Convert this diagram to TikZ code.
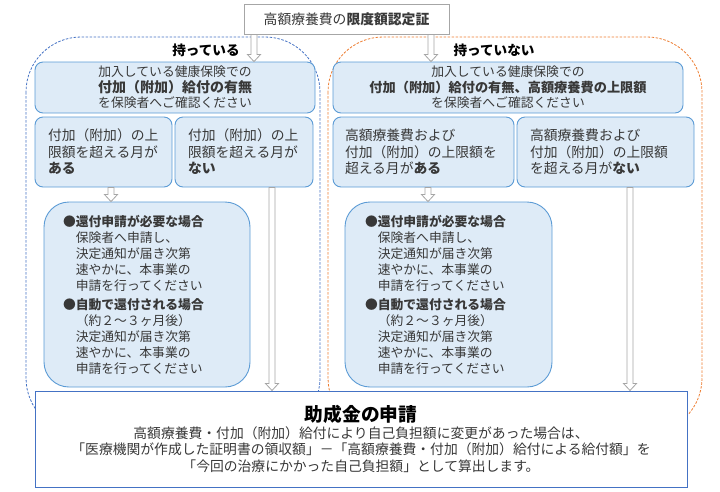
\documentclass[tikz,border=0pt]{standalone}
\usepackage{fontspec}
\setmainfont{Noto Sans CJK JP}
\usetikzlibrary{calc}
\definecolor{boxfill}{HTML}{DEEBF7}
\definecolor{boxline}{HTML}{5B9BD5}
\definecolor{ownline}{HTML}{4472C4}
\definecolor{noneline}{HTML}{ED7D31}
\definecolor{arrowgray}{HTML}{A6A6A6}
\definecolor{textgray}{HTML}{383838}
\newcommand{\blockarrow}[3]{%
\draw[arrowline] let \p1=(#2), \p2=(#3) in (#1pt-3pt,\y1) -- (#1pt-3pt,\y2+7pt) -- (#1pt-6.5pt,\y2+7pt) -- (#1pt,\y2) -- (#1pt+6.5pt,\y2+7pt) -- (#1pt+3pt,\y2+7pt) -- (#1pt+3pt,\y1) -- cycle;}
\begin{document}
\begin{tikzpicture}[x=1pt,y=-1pt,
  every node/.style={text=textgray},
  infobox/.style={draw=boxline,fill=boxfill,line width=0.9pt,rounded corners=8pt,inner ysep=0pt},
  askbox/.style={infobox,align=center,minimum height=51pt,font=\fontsize{12.8}{15.5}\selectfont},
  overbox/.style={infobox,align=left,minimum height=70pt,font=\fontsize{13.8}{16.5}\selectfont},
  stepsbox/.style={infobox,align=left,minimum height=185pt,rounded corners=25pt,font=\fontsize{12.8}{16}\selectfont},
  grouplabel/.style={font=\fontsize{13.6}{16}\selectfont\bfseries,text=black,inner sep=0pt},
  arrowline/.style={draw=arrowgray,fill=white,line width=0.8pt},
  ownregion/.style={draw=ownline,line width=0.8pt,dash pattern=on 2.5pt off 1.5pt,rounded corners=55pt},
  noneregion/.style={draw=noneline,line width=0.8pt,dash pattern=on 2.5pt off 1.5pt,rounded corners=55pt}]
\useasboundingbox (0,0) rectangle (720,491);
\draw[ownregion] (26,37) rectangle (320,433);
\draw[noneregion] (328,37) rectangle (702,433);
\node[draw=arrowgray,line width=1pt,fill=white,minimum width=205pt,minimum height=30pt,font=\fontsize{13.8}{16}\selectfont] (cert) at (346.5,19) {高額療養費の\textbf{限度額認定証}};
\node[grouplabel] (own) at (206,50) {持っている};
\node[grouplabel] (none) at (494,50) {持っていない};
\node[askbox,minimum width=280pt] (ownask) at (175,87.5) {加入している健康保険での\\{\fontsize{14}{15.5}\selectfont\bfseries 付加（附加）給付の有無}\\を保険者へご確認ください};
\node[overbox,text width=111pt,inner xsep=13pt] (ownover) at (103.5,152) {付加（附加）の上\\限額を超える月が\\\textbf{ある}};
\node[overbox,text width=112pt,inner xsep=13pt] (ownunder) at (244,152) {付加（附加）の上\\限額を超える月が\\\textbf{ない}};
\node[stepsbox,text width=168pt,inner xsep=19pt] (ownsteps) at (147,294.5) {●\textbf{還付申請が必要な場合}\\\hspace*{1em}保険者へ申請し、\\\hspace*{1em}決定通知が届き次第\\\hspace*{1em}速やかに、本事業の\\\hspace*{1em}申請を行ってください\\[3pt]●\textbf{自動で還付される場合}\\\hspace*{1em}（約２～３ヶ月後）\\\hspace*{1em}決定通知が届き次第\\\hspace*{1em}速やかに、本事業の\\\hspace*{1em}申請を行ってください};
\node[askbox,minimum width=350pt] (noneask) at (508,87.5) {加入している健康保険での\\{\fontsize{13.2}{15.5}\selectfont\bfseries 付加（附加）給付の有無、高額療養費の上限額}\\を保険者へご確認ください};
\node[overbox,text width=157pt,inner xsep=12pt] (noneover) at (423.5,152) {高額療養費および\\付加（附加）の上限額を\\超える月が\textbf{ある}};
\node[overbox,text width=151pt,inner xsep=13pt] (noneunder) at (605.5,152) {高額療養費および\\付加（附加）の上限額\\を超える月が\textbf{ない}};
\node[stepsbox,text width=167pt,inner xsep=20pt] (nonesteps) at (448.5,294.5) {●\textbf{還付申請が必要な場合}\\\hspace*{1em}保険者へ申請し、\\\hspace*{1em}決定通知が届き次第\\\hspace*{1em}速やかに、本事業の\\\hspace*{1em}申請を行ってください\\[3pt]●\textbf{自動で還付される場合}\\\hspace*{1em}（約２～３ヶ月後）\\\hspace*{1em}決定通知が届き次第\\\hspace*{1em}速やかに、本事業の\\\hspace*{1em}申請を行ってください};
\node[draw=ownline,line width=1pt,fill=white,minimum width=652pt,minimum height=96pt,align=center,font=\fontsize{13.8}{16.5}\selectfont] (apply) at (361,439) {{\fontsize{18.7}{22}\selectfont\bfseries\color{black}助成金の申請}\\高額療養費・付加（附加）給付により自己負担額に変更があった場合は、\\「医療機関が作成した証明書の領収額」－「高額療養費・付加（附加）給付による給付額」を\\「今回の治療にかかった自己負担額」として算出します。};
\blockarrow{254}{cert.south}{ownask.north}
\blockarrow{431}{cert.south}{noneask.north}
\blockarrow{111}{ownover.south}{ownsteps.north}
\blockarrow{272}{ownunder.south}{apply.north}
\blockarrow{428}{noneover.south}{nonesteps.north}
\blockarrow{630}{noneunder.south}{apply.north}
\end{tikzpicture}
\end{document}
